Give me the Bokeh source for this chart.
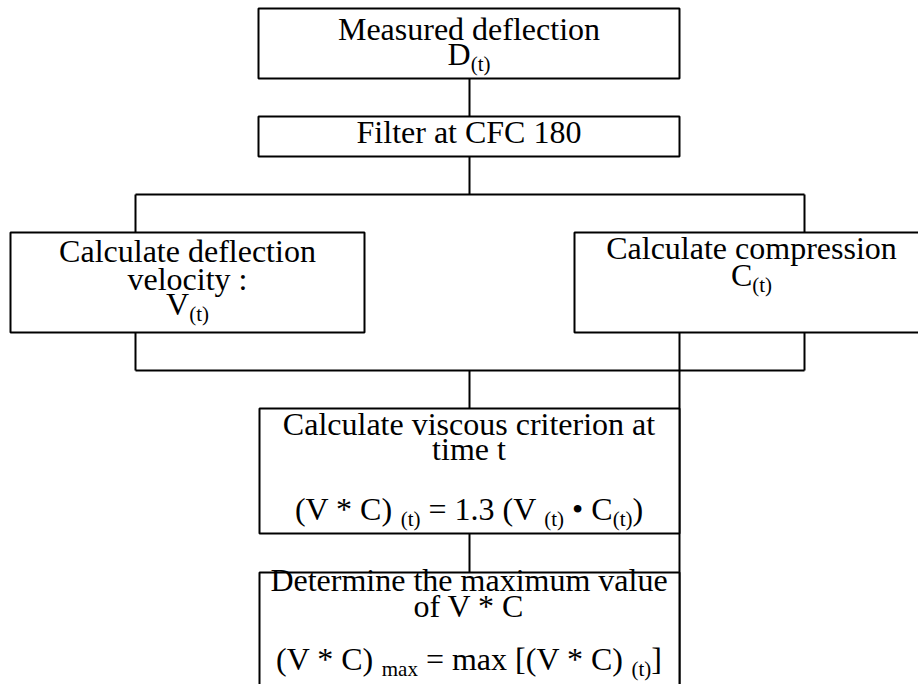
from bokeh.plotting import figure
from bokeh.models import Range1d
from bokeh.core.properties import value
from bokeh.embed import file_html
from bokeh.resources import INLINE

# ---- flowchart data (reference pixel coordinates) ----
box_left = [258, 258, 10, 574, 259, 259]
box_right = [679, 679, 364, 930, 679, 679]
box_top = [8, 116, 232, 232, 408, 572]
box_bottom = [78, 156, 332, 332, 533, 700]

link_x0 = [469, 469, 135, 135, 804, 135, 804, 135, 679, 469, 469]
link_y0 = [78, 156, 194, 194, 194, 332, 332, 370, 332, 370, 533]
link_x1 = [469, 469, 804, 135, 804, 135, 804, 804, 679, 469, 469]
link_y1 = [116, 194, 194, 232, 232, 370, 370, 370, 700, 408, 572]

# text lines: (center x, baseline y, segments) ; segment = (text, is_subscript)
text_lines = [
    (468.5, 40, [("Measured deflection", False)]),
    (468.5, 65, [("D", False), ("(t)", True)]),
    (468.5, 143, [("Filter at CFC 180", False)]),
    (187, 262, [("Calculate deflection", False)]),
    (187, 290, [("velocity :", False)]),
    (187, 315, [("V", False), ("(t)", True)]),
    (751, 259, [("Calculate compression", False)]),
    (751, 286, [("C", False), ("(t)", True)]),
    (468.5, 435, [("Calculate viscous criterion at", False)]),
    (468.5, 460, [("time t", False)]),
    (468.5, 520, [("(V * C) ", False), ("(t)", True), (" = 1.3 (V ", False),
                  ("(t)", True), (" \u2022 C", False), ("(t)", True), (")", False)]),
    (468.5, 591, [("Determine the maximum value", False)]),
    (468.5, 617, [("of V * C", False)]),
    (468.5, 670, [("(V * C) ", False), ("max", True), (" = max [(V * C) ", False),
                  ("(t)", True), ("]", False)]),
]

MAIN = 32
SUB = 21
SUB_DROP = 6
FONT = "Liberation Serif"
LIFT = 0.37  # empirical baseline correction, in em

# Times / Liberation Serif advance widths (1/1000 em)
W = {" ": 250, "(": 333, ")": 333, "t": 278, "V": 722, "*": 500, "C": 667,
     "=": 564, "1": 500, ".": 250, "3": 500, "\u2022": 350, "D": 722,
     "m": 778, "a": 444, "x": 500, "[": 333, "]": 333}


def width(s, size):
    return sum(W.get(ch, 500) for ch in s) * size / 1000.0


p = figure(width=918, height=684, output_backend="svg", toolbar_location=None,
           x_range=Range1d(0, 918), y_range=Range1d(684, 0), min_border=0)
p.axis.visible = False
p.grid.visible = False
p.outline_line_color = None
p.background_fill_color = "white"
p.border_fill_color = "white"

p.segment(x0=link_x0, y0=link_y0, x1=link_x1, y1=link_y1,
          line_color="black", line_width=2)
p.quad(left=box_left, right=box_right, top=box_top, bottom=box_bottom,
       fill_color="white", line_color="black", line_width=2)

center_x, center_y, center_t = [], [], []
left_x, left_y, left_t = [], [], []
sx, sy, stxt = [], [], []
for cx, by, segs in text_lines:
    if len(segs) == 1:
        center_x.append(cx)
        center_y.append(by - LIFT * MAIN)
        center_t.append(segs[0][0])
        continue
    total = sum(width(t, SUB if sub else MAIN) for t, sub in segs)
    x = cx - total / 2.0
    for t, sub in segs:
        size = SUB if sub else MAIN
        lead = len(t) - len(t.lstrip(" "))
        xs = x + width(" " * lead, size)
        if sub:
            sx.append(xs)
            sy.append(by + SUB_DROP - LIFT * SUB)
            stxt.append(t.strip())
        else:
            left_x.append(xs)
            left_y.append(by - LIFT * MAIN)
            left_t.append(t.strip())
        x += width(t, size)

p.text(x=center_x, y=center_y, text=center_t, text_font=value(FONT),
       text_font_size=f"{MAIN}px", text_align="center",
       text_baseline="alphabetic", text_color="black")
p.text(x=left_x, y=left_y, text=left_t, text_font=value(FONT),
       text_font_size=f"{MAIN}px", text_align="left",
       text_baseline="alphabetic", text_color="black")
p.text(x=sx, y=sy, text=stxt, text_font=value(FONT),
       text_font_size=f"{SUB}px", text_align="left",
       text_baseline="alphabetic", text_color="black")

open("out.html", "w").write(file_html(p, INLINE))
